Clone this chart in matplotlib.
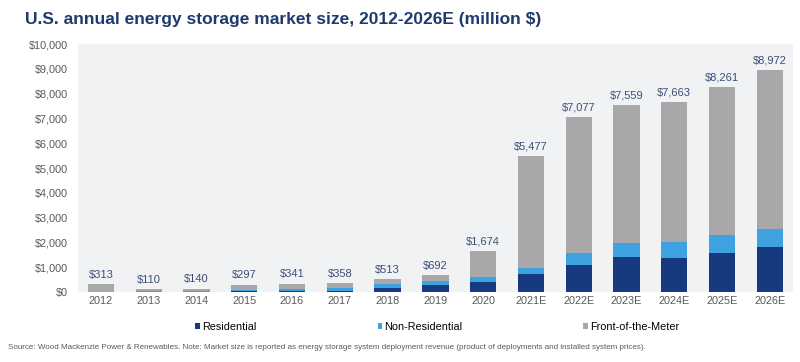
import matplotlib.pyplot as plt
import numpy as np

plt.rcParams["font.family"] = ["Liberation Sans", "DejaVu Sans"]

# Data (million $)
years = ["2012", "2013", "2014", "2015", "2016", "2017", "2018", "2019", "2020",
         "2021E", "2022E", "2023E", "2024E", "2025E", "2026E"]
residential = [5, 5, 5, 30, 40, 60, 180, 270, 420, 750, 1090, 1410, 1390, 1590, 1815]
non_residential = [20, 25, 40, 60, 80, 90, 150, 170, 200, 235, 470, 580, 640, 710, 740]
totals = [313, 110, 140, 297, 341, 358, 513, 692, 1674, 5477, 7077, 7559, 7663, 8261, 8972]
front_of_meter = [t - r - n for t, r, n in zip(totals, residential, non_residential)]

dark_blue = "#17397f"
light_blue = "#3fa2e0"
grey = "#a8a8aa"
label_color = "#3c4e78"

fig = plt.figure(figsize=(8, 3.62), dpi=100)
ax = fig.add_axes([0.0975, 0.193, 0.8935, 0.685])
ax.set_facecolor("#f1f2f4")

x = np.arange(len(years))
w = 0.55
res = np.array(residential)
nonres = np.array(non_residential)
ftm = np.array(front_of_meter)
b1 = ax.bar(x, res, w, color=dark_blue, label="Residential")
b2 = ax.bar(x, nonres, w, bottom=res, color=light_blue, label="Non-Residential")
b3 = ax.bar(x, ftm, w, bottom=res + nonres, color=grey, label="Front-of-the-Meter")

for xi, t in zip(x, totals):
    ax.text(xi, t + 180, "${:,}".format(t), ha="center", va="bottom",
            fontsize=8, color=label_color)

ax.set_xlim(-0.48, 14.48)
ax.set_ylim(0, 10000)
ax.set_yticks(range(0, 10001, 1000))
ax.set_yticklabels(["${:,}".format(v) for v in range(0, 10001, 1000)])
ax.set_xticks(x)
ax.set_xticklabels(years)
ax.tick_params(axis="both", length=0, labelsize=7.8, labelcolor="#595959")
ax.tick_params(axis="y", pad=7)
ax.tick_params(axis="x", pad=3)
for s in ax.spines.values():
    s.set_visible(False)

fig.text(0.031, 0.945, "U.S. annual energy storage market size, 2012-2026E (million $)",
         fontsize=12.5, fontweight="bold", color="#1f3a6e", va="center")

# legend entries placed one by one (uneven spacing in the original)
for h, lab, xpos in [(b1, "Residential", 0.244), (b2, "Non-Residential", 0.472),
                     (b3, "Front-of-the-Meter", 0.729)]:
    fig.legend([h], [lab], loc="center left", bbox_to_anchor=(xpos, 0.097),
               frameon=False, fontsize=7.8, handlelength=0.45, handleheight=0.45,
               handletextpad=0.15, borderpad=0, borderaxespad=0)

fig.text(0.01, 0.041,
         "Source: Wood Mackenzie Power & Renewables. Note: Market size is reported as energy storage "
         "system deployment revenue (product of deployments and installed system prices).",
         fontsize=5.8, color="#595959", va="center")

fig.savefig("out.png", dpi=100)
